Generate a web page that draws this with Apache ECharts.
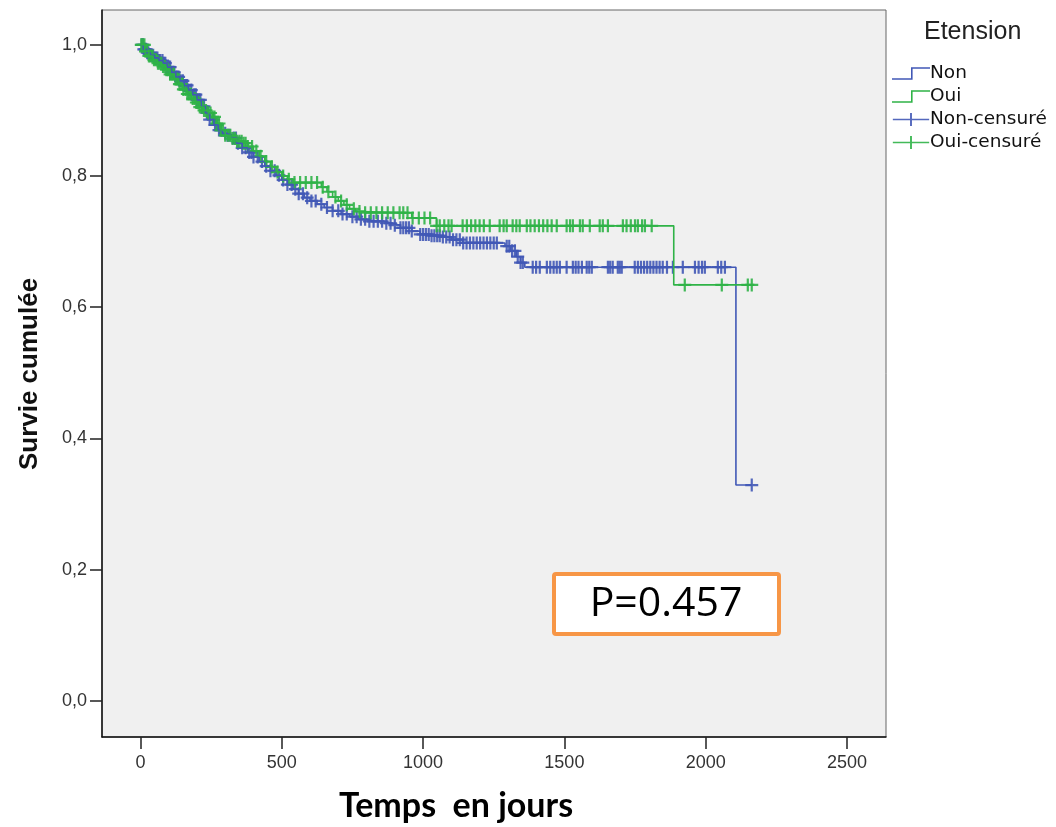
<!DOCTYPE html>
<html>
<head>
<meta charset="utf-8">
<script src="https://cdn.jsdelivr.net/npm/echarts@6/dist/echarts.min.js"></script>
<style>
html,body{margin:0;padding:0;background:#fff;}
#chart{width:1056px;height:827px;}
</style>
</head>
<body>
<div id="chart"></div>
<script>
// ---- Data ----
const xTicks = [0, 500, 1000, 1500, 2000, 2500];
const yTicks = [0, 0.2, 0.4, 0.6, 0.8, 1.0];
const seriesNames = ['Non', 'Oui', 'Non-censuré', 'Oui-censuré'];
const legendTitle = 'Etension';
const pValueText = 'P=0.457';

// Non : step times and survival after each step
const nonTimes = [0, 10, 22, 35, 50, 65, 80, 95, 110, 125, 140, 155, 170, 185, 200, 215, 230, 245, 260, 275, 290, 305, 320, 340, 360, 380, 400, 420, 440, 460, 480, 500, 520, 540, 560, 580, 600, 625, 650, 680, 710, 740, 770, 800, 830, 860, 890, 920, 960, 990, 1030, 1060, 1100, 1140, 1290, 1310, 1330, 1345, 1360, 2107];
const nonSurv  = [1.0, 0.993, 0.988, 0.984, 0.98, 0.976, 0.972, 0.966, 0.958, 0.951, 0.945, 0.938, 0.931, 0.924, 0.916, 0.906, 0.896, 0.886, 0.878, 0.87, 0.865, 0.862, 0.858, 0.85, 0.843, 0.836, 0.829, 0.822, 0.815, 0.808, 0.801, 0.794, 0.787, 0.78, 0.773, 0.767, 0.762, 0.757, 0.752, 0.747, 0.742, 0.738, 0.734, 0.731, 0.731, 0.728, 0.725, 0.721, 0.716, 0.711, 0.709, 0.707, 0.703, 0.698, 0.693, 0.686, 0.677, 0.668, 0.661, 0.329];
// Oui
const ouiTimes = [0, 15, 30, 45, 60, 75, 90, 105, 120, 135, 150, 165, 180, 195, 210, 225, 240, 255, 270, 285, 300, 320, 340, 360, 380, 400, 420, 440, 460, 480, 500, 520, 540, 640, 660, 680, 700, 720, 740, 760, 780, 960, 1048, 1887];
const ouiSurv  = [1.0, 0.99, 0.983, 0.977, 0.972, 0.967, 0.962, 0.955, 0.948, 0.94, 0.932, 0.925, 0.918, 0.912, 0.905, 0.9, 0.896, 0.89, 0.88, 0.87, 0.862, 0.857, 0.853, 0.85, 0.845, 0.838, 0.83, 0.822, 0.814, 0.806, 0.8, 0.795, 0.79, 0.783, 0.776, 0.768, 0.762, 0.756, 0.75, 0.746, 0.744, 0.736, 0.724, 0.634];

// Censored times
const nonCensor = [5, 9, 12, 16, 20, 24, 28, 35, 40, 45, 52, 56, 60, 66, 70, 78, 84, 88, 95, 100, 105, 110, 115, 120, 125, 130, 135, 142, 150, 155, 160, 165, 170, 180, 190, 196, 200, 206, 212, 218, 225, 235, 240, 245, 258, 264, 270, 278, 285, 300, 308, 315, 330, 338, 345, 360, 372, 385, 393, 400, 415, 430, 445, 460, 475, 490, 505, 520, 535, 548, 560, 575, 590, 605, 620, 640, 660, 680, 700, 715, 730, 750, 765, 780, 795, 810, 825, 840, 855, 870, 885, 900, 920, 930, 940, 950, 960, 990, 1000, 1010, 1020, 1030, 1040, 1050, 1059, 1070, 1082, 1094, 1106, 1118, 1130, 1142, 1154, 1166, 1178, 1190, 1202, 1214, 1226, 1238, 1250, 1261, 1296, 1305, 1315, 1325, 1335, 1345, 1353, 1388, 1400, 1413, 1438, 1450, 1462, 1473, 1484, 1508, 1530, 1540, 1550, 1562, 1579, 1588, 1597, 1654, 1662, 1671, 1689, 1696, 1703, 1749, 1760, 1771, 1782, 1793, 1804, 1815, 1826, 1837, 1848, 1863, 1884, 1919, 1962, 1975, 1987, 1997, 2043, 2055, 2068, 2163];
const ouiCensor = [3, 8, 14, 18, 24, 30, 36, 42, 48, 55, 62, 68, 74, 80, 86, 92, 98, 105, 112, 118, 124, 130, 138, 145, 152, 160, 166, 172, 178, 185, 192, 198, 204, 210, 218, 225, 232, 240, 248, 255, 262, 270, 278, 285, 292, 300, 310, 318, 326, 335, 342, 350, 358, 365, 372, 380, 395, 410, 425, 445, 465, 485, 505, 525, 545, 565, 585, 605, 625, 645, 665, 690, 710, 730, 755, 775, 795, 815, 835, 855, 875, 895, 917, 930, 945, 963, 985, 1005, 1025, 1048, 1059, 1075, 1090, 1101, 1140, 1155, 1170, 1185, 1200, 1215, 1236, 1271, 1285, 1296, 1317, 1330, 1342, 1367, 1380, 1395, 1410, 1425, 1440, 1455, 1473, 1508, 1520, 1530, 1555, 1565, 1590, 1625, 1636, 1654, 1707, 1720, 1735, 1750, 1760, 1775, 1785, 1809, 1926, 2057, 2149, 2163];
const endTime = 2163;

// ---- build series data ----
function stepPairs(times, surv) {
  const d = times.map((t, i) => [t, surv[i]]);
  d.push([endTime, surv[surv.length - 1]]);
  return d;
}
function survAt(times, surv, t) {
  let s = surv[0];
  for (let i = 0; i < times.length; i++) { if (times[i] <= t) s = surv[i]; }
  return s;
}
function censorPairs(cTimes, times, surv) {
  return cTimes.map(t => [t, survAt(times, surv, t)]);
}

const BLUE = '#4158b6';
const GREEN = '#2fb347';
const plusPath = 'path://M5.4,0 L7.6,0 L7.6,5.4 L13,5.4 L13,7.6 L7.6,7.6 L7.6,13 L5.4,13 L5.4,7.6 L0,7.6 L0,5.4 L5.4,5.4 Z';
const legendPlus = 'path://M0,6 L18,6 L18,0 L20,0 L20,6 L38,6 L38,7.6 L20,7.6 L20,13.6 L18,13.6 L18,7.6 L0,7.6 Z';
const legendStep = 'path://M0,11 L19,11 L19,0 L38,0 L38,1.6 L20.6,1.6 L20.6,12.6 L0,12.6 Z';

const chart = echarts.init(document.getElementById('chart'), null, {renderer: 'canvas'});
const tickFont = {fontFamily: 'Liberation Sans', fontSize: 18, color: '#333'};

chart.setOption({
  animation: false,
  backgroundColor: '#ffffff',
  grid: {
    left: 102, top: 10, width: 784, height: 727,
    show: true, backgroundColor: '#f0f0f0', borderColor: '#666', borderWidth: 1
  },
  xAxis: {
    type: 'value', min: -136, max: 2638,
    splitLine: {show: false},
    axisLine: {show: true, onZero: false, lineStyle: {color: '#111', width: 1.5}},
    axisTick: {show: true, length: 12, customValues: xTicks, lineStyle: {color: '#222', width: 1.5}},
    axisLabel: {customValues: xTicks, margin: 17, ...tickFont, formatter: v => String(v)}
  },
  yAxis: {
    type: 'value', min: -0.055, max: 1.053,
    splitLine: {show: false},
    axisLine: {show: true, onZero: false, lineStyle: {color: '#111', width: 1.5}},
    axisTick: {show: true, length: 12, customValues: yTicks, lineStyle: {color: '#222', width: 1.5}},
    axisLabel: {customValues: yTicks, margin: 15, ...tickFont,
      formatter: v => v.toFixed(1).replace('.', ',')}
  },
  legend: {
    orient: 'vertical', left: 892, top: 64,
    itemWidth: 38, itemHeight: 13, itemGap: 4,
    padding: 0,
    textStyle: {fontFamily: 'DejaVu Sans', fontSize: 18.5, color: '#111', lineHeight: 17, padding: [0,0,0,-5]},
    data: [
      {name: seriesNames[0], icon: legendStep},
      {name: seriesNames[1], icon: legendStep},
      {name: seriesNames[2], icon: legendPlus},
      {name: seriesNames[3], icon: legendPlus}
    ]
  },
  graphic: [
    {type: 'text', left: 924, top: 20, style: {text: legendTitle, fontFamily: 'Liberation Sans', fontSize: 25, fill: '#222'}},
    {type: 'text', x: 30, y: 374, rotation: Math.PI / 2,
      style: {text: 'Survie cumulée', fontFamily: 'Liberation Sans', fontWeight: 'bold', fontSize: 26, fill: '#111', align: 'center', verticalAlign: 'middle'}},
    {type: 'text', x: 456, y: 806,
      style: {text: 'Temps  en jours', fontFamily: 'Lato', fontWeight: 'bold', fontSize: 34, fill: '#000', align: 'center', verticalAlign: 'middle'}},
    {type: 'rect', shape: {x: 554, y: 574, width: 225, height: 60, r: 2},
      style: {fill: '#ffffff', stroke: '#f79646', lineWidth: 4}, z: 100},
    {type: 'text', x: 666, y: 604, z: 101,
      style: {text: pValueText, fontFamily: 'Open Sans', fontSize: 41, fill: '#000', align: 'center', verticalAlign: 'middle'}}
  ],
  series: [
    {name: seriesNames[0], type: 'line', step: 'end', showSymbol: false, symbol: 'none',
      data: stepPairs(nonTimes, nonSurv), itemStyle: {color: BLUE}, lineStyle: {color: BLUE, width: 1.6}},
    {name: seriesNames[1], type: 'line', step: 'end', showSymbol: false, symbol: 'none',
      data: stepPairs(ouiTimes, ouiSurv), itemStyle: {color: GREEN}, lineStyle: {color: GREEN, width: 1.6}},
    {name: seriesNames[2], type: 'scatter', symbol: plusPath, symbolSize: 13,
      data: censorPairs(nonCensor, nonTimes, nonSurv), itemStyle: {color: BLUE, opacity: 0.9}},
    {name: seriesNames[3], type: 'scatter', symbol: plusPath, symbolSize: 13,
      data: censorPairs(ouiCensor, ouiTimes, ouiSurv), itemStyle: {color: GREEN, opacity: 0.9}}
  ]
});
</script>
</body>
</html>
